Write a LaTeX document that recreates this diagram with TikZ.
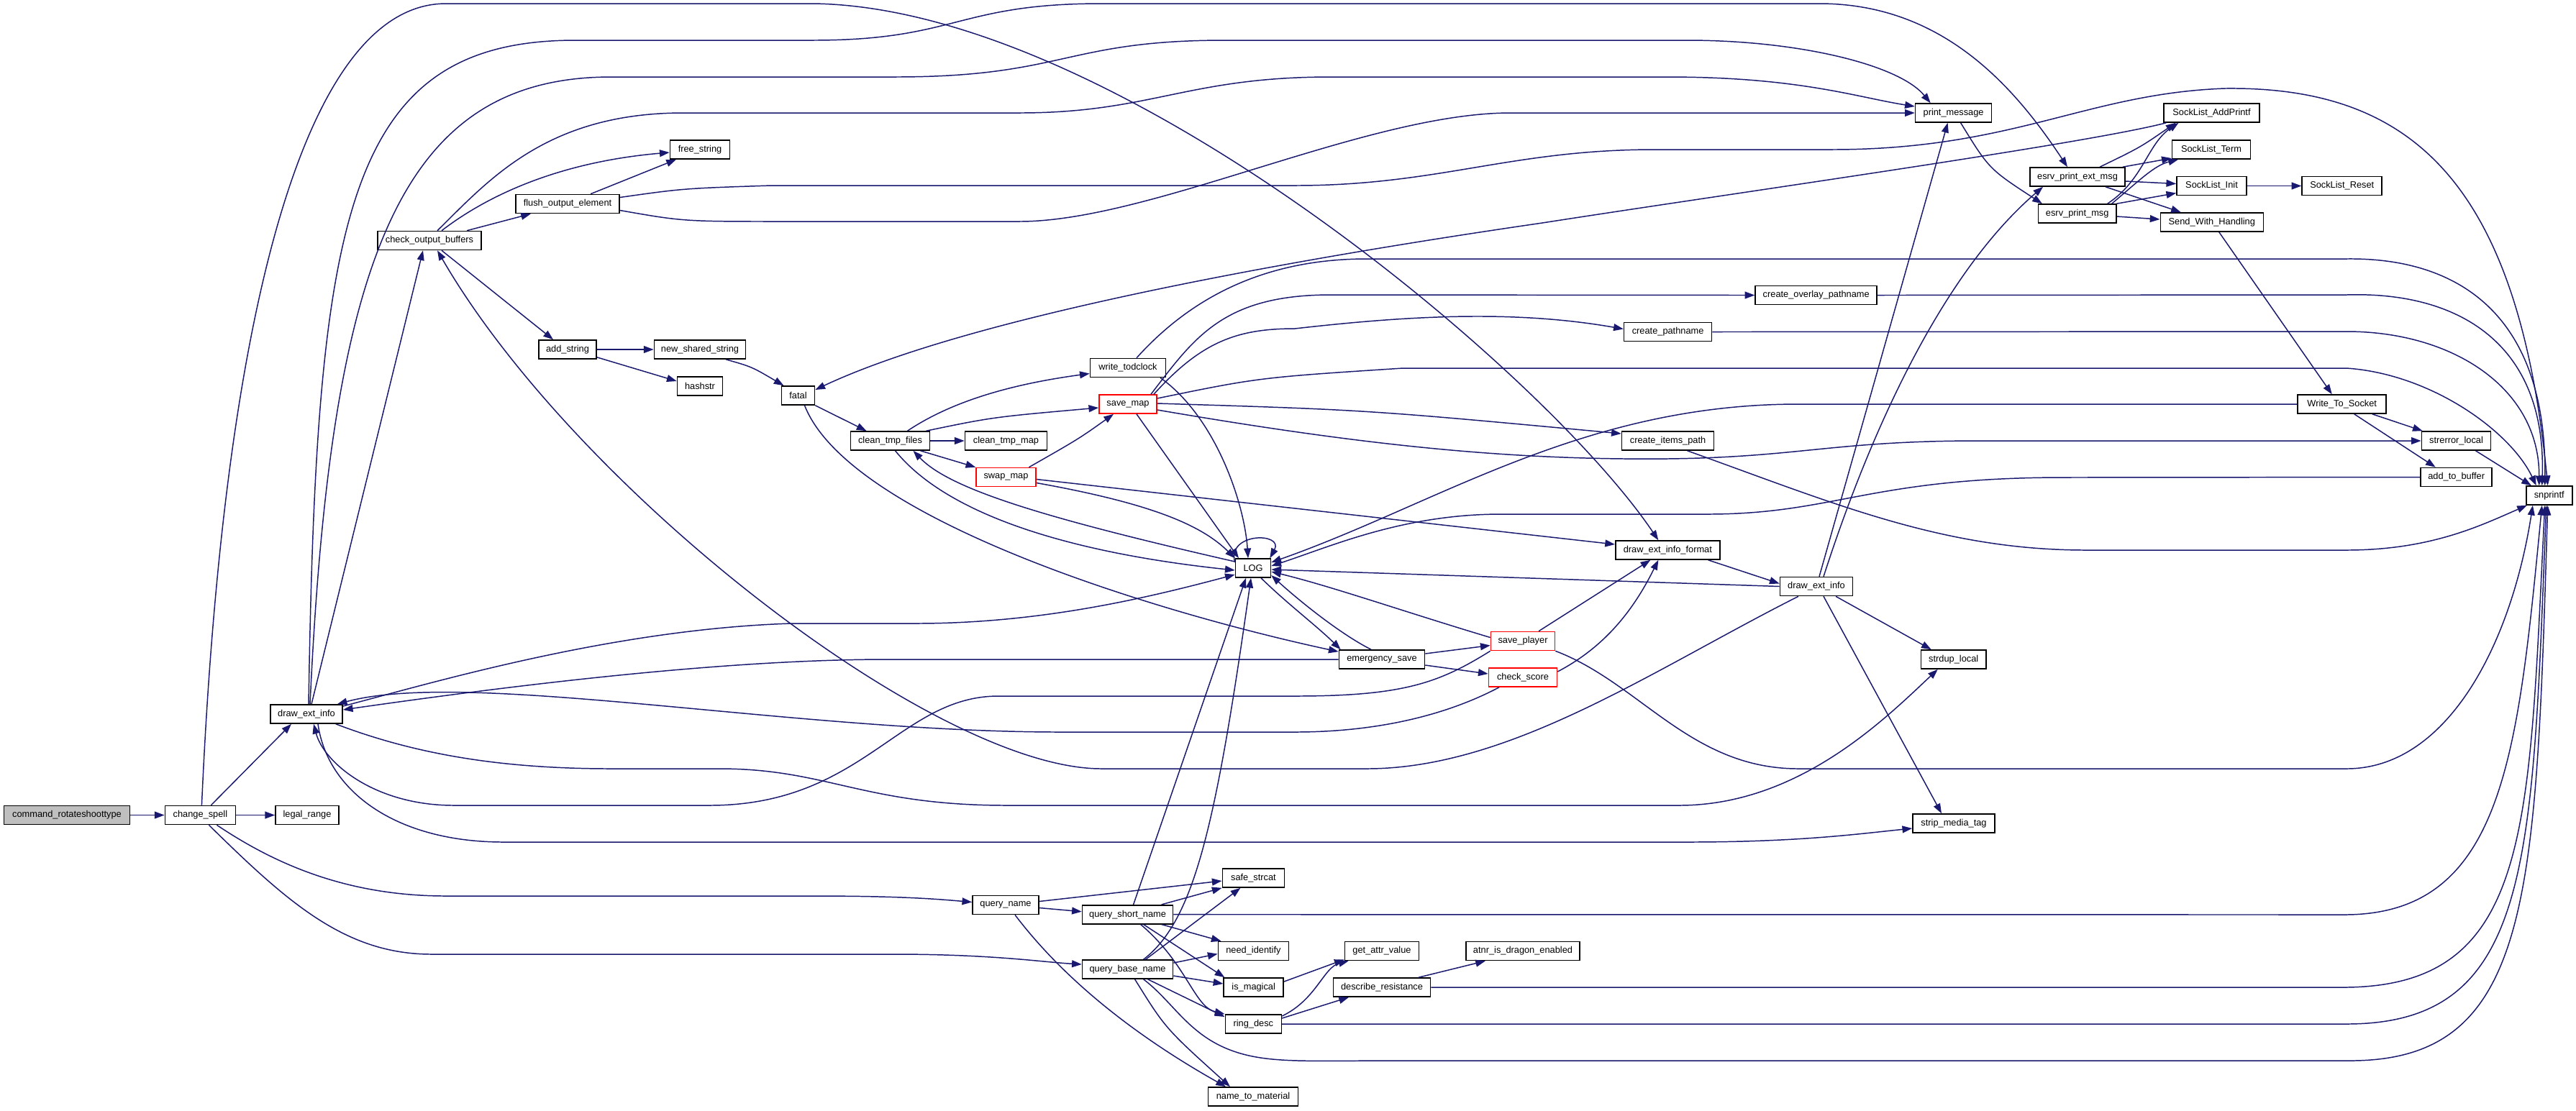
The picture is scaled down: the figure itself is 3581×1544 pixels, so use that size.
\documentclass[tikz,border=0pt]{standalone}
\usepackage{fontspec}
\setmainfont{Liberation Sans}
\usetikzlibrary{arrows.meta,calc}
\definecolor{edgecol}{HTML}{191970}
\definecolor{rootfill}{HTML}{BFBFBF}
\begin{document}
\begin{tikzpicture}[x=0.01cm,y=-0.01cm,
  fn/.style={draw=black,fill=white,line width=0.45pt,minimum height=0.26cm,inner sep=0pt,font=\fontsize{3.64pt}{4.4pt}\selectfont},
  fnr/.style={fn,draw=red},
  ed/.style={color=edgecol,line width=0.42pt,-{Triangle[length=3.9pt,width=2.8pt]}}]
\fill[white] (0,0) rectangle (3581,1544);
\path[use as bounding box] (0,0) rectangle (3581,1544);
% nodes
\node[fn,fill=rootfill,minimum width=1.75cm] (cmd) at (93,1133.5) {command\_rotateshoottype};
\node[fn,minimum width=0.98cm] (cs) at (278.4,1133.5) {change\_spell};
\node[fn,minimum width=0.88cm] (lr) at (427,1133.5) {legal\_range};
\node[fn,minimum width=1.00cm] (dei) at (426,993) {draw\_ext\_info};
\node[fn,minimum width=1.44cm] (cob) at (597,334.5) {check\_output\_buffers};
\node[fn,minimum width=1.44cm] (foe) at (789,283.5) {flush\_output\_element};
\node[fn,minimum width=0.80cm] (as) at (789,486) {add\_string};
\node[fn,minimum width=0.83cm] (fs) at (973,208) {free\_string};
\node[fn,minimum width=1.27cm] (nss) at (973,486) {new\_shared\_string};
\node[fn,minimum width=0.63cm] (hs) at (973,537) {hashstr};
\node[fn,minimum width=0.46cm] (fat) at (1109.5,550) {fatal};
\node[fn,minimum width=1.10cm] (ctf) at (1237.5,613) {clean\_tmp\_files};
\node[fn,minimum width=1.14cm] (ctm) at (1398.5,613) {clean\_tmp\_map};
\node[fnr,minimum width=0.83cm] (swm) at (1398.5,663.5) {swap\_map};
\node[fn,minimum width=0.92cm] (qn) at (1398,1258.5) {query\_name};
\node[fnr,minimum width=0.80cm] (svm) at (1568,562) {save\_map};
\node[fn,minimum width=1.05cm] (wt) at (1568,511.5) {write\_todclock};
\node[fn,minimum width=1.26cm] (qsn) at (1567.6,1271.7) {query\_short\_name};
\node[fn,minimum width=1.26cm] (qbn) at (1567.6,1348) {query\_base\_name};
\node[fn,minimum width=0.49cm] (log) at (1742,790) {LOG};
\node[fn,minimum width=0.86cm] (sst) at (1742.4,1221) {safe\_strcat};
\node[fn,minimum width=0.98cm] (ni) at (1742.4,1322.5) {need\_identify};
\node[fn,minimum width=0.83cm] (im) at (1742.7,1373) {is\_magical};
\node[fn,minimum width=0.78cm] (rd) at (1742.3,1424) {ring\_desc};
\node[fn,minimum width=1.25cm] (ntm) at (1742,1525) {name\_to\_material};
\node[fn,minimum width=1.19cm] (es) at (1921,917) {emergency\_save};
\node[fn,minimum width=1.03cm] (gav) at (1921,1322.5) {get\_attr\_value};
\node[fn,minimum width=1.35cm] (dr) at (1921,1373) {describe\_resistance};
\node[fnr,minimum width=0.89cm] (sp) at (2117,891.5) {save\_player};
\node[fnr,minimum width=0.95cm] (csc) at (2117,942) {check\_score};
\node[fn,minimum width=1.58cm] (atnr) at (2117,1322.5) {atnr\_is\_dragon\_enabled};
\node[fn,minimum width=1.22cm] (cp) at (2318.6,461.5) {create\_pathname};
\node[fn,minimum width=1.28cm] (cip) at (2318.6,613) {create\_items\_path};
\node[fn,minimum width=1.45cm] (deif) at (2318.3,765) {draw\_ext\_info\_format};
\node[fn,minimum width=1.69cm] (cop) at (2524.7,410.5) {create\_overlay\_pathname};
\node[fn,minimum width=1.01cm] (dei2) at (2525,815.5) {draw\_ext\_info};
\node[fn,minimum width=1.06cm] (pm) at (2715.6,157) {print\_message};
\node[fn,minimum width=0.90cm] (sdl) at (2715.7,917) {strdup\_local};
\node[fn,minimum width=1.14cm] (smt) at (2716,1145) {strip\_media\_tag};
\node[fn,minimum width=1.32cm] (epem) at (2888,246) {esrv\_print\_ext\_msg};
\node[fn,minimum width=1.08cm] (epm) at (2887.7,297) {esrv\_print\_msg};
\node[fn,minimum width=1.33cm] (sap) at (3074.5,157) {SockList\_AddPrintf};
\node[fn,minimum width=1.09cm] (st) at (3074,208) {SockList\_Term};
\node[fn,minimum width=0.97cm] (si) at (3074.5,258.5) {SockList\_Init};
\node[fn,minimum width=1.43cm] (swh) at (3074.8,309) {Send\_With\_Handling};
\node[fn,minimum width=1.11cm] (sr) at (3255.7,258.5) {SockList\_Reset};
\node[fn,minimum width=1.23cm] (wts) at (3255.7,562) {Write\_To\_Socket};
\node[fn,minimum width=0.96cm] (sel) at (3414.5,613) {strerror\_local};
\node[fn,minimum width=0.99cm] (atb) at (3414.7,663.5) {add\_to\_buffer};
\node[fn,minimum width=0.64cm] (snp) at (3543.7,689) {snprintf};
% edges: change_spell
\draw[ed] (cmd.east) -- (cs.west);
\draw[ed] (cs.east) -- (lr.west);
\draw[ed] ($(cs.north)+(15,0)$) -- ($(dei.south)+(-21,0)$);
\draw[ed] ($(cs.north)+(2,0)$) .. controls (310,450) and (420,5) .. (620,5) -- (1130,5) .. controls (1550,10) and (2150,520) .. ($(deif.north)+(-13,0)$);
\draw[ed] ($(cs.south)+(23,0)$) .. controls (380,1200) and (480,1246) .. (620,1246) -- (1130,1246) .. controls (1250,1246) and (1300,1250) .. ($(qn.west)+(0,-4)$);
\draw[ed] ($(cs.south)+(12,0)$) .. controls (400,1255) and (480,1327) .. (600,1327) -- (1244,1327) .. controls (1380,1327) and (1450,1338) .. ($(qbn.west)+(0,-7)$);
% draw_ext_info (left)
\draw[ed] ($(dei.north)+(3,0)$) .. controls (440,300) and (480,56) .. (800,56) -- (1130,56) .. controls (1330,56) and (1330,5) .. (1531,5) -- (2529,5) .. controls (2700,5) and (2800,120) .. ($(epem.north)+(-14,0)$);
\draw[ed] ($(dei.north)+(5,0)$) .. controls (460,350) and (560,107) .. (850,107) -- (1244,107) .. controls (1480,107) and (1480,56) .. (1703,56) -- (2345,56) .. controls (2500,56) and (2640,90) .. ($(pm.north)+(-32,0)$);
\draw[ed] ($(dei.north)+(7,0)$) -- ($(cob.south)+(-9,0)$);
\draw[ed] ($(dei.east)+(0,-11)$) .. controls (600,950) and (850,875) .. (1100,867) -- (1273,867) .. controls (1450,867) and (1600,830) .. ($(log.west)+(0,9)$);
\draw[ed] ($(dei.south east)+(-10,0)$) .. controls (580,1050) and (700,1069) .. (850,1069) -- (1000,1069) .. controls (1150,1069) and (1200,1120) .. (1400,1120) -- (2334,1120) .. controls (2500,1120) and (2620,1000) .. ($(sdl.south)+(-22,0)$);
\draw[ed] ($(dei.south)+(16,0)$) .. controls (455,1100) and (550,1171) .. (700,1171) -- (2345,1171) .. controls (2500,1171) and (2580,1160) .. ($(smt.west)+(0,7)$);
% back edges into draw_ext_info (left)
\draw[ed] (sp.south west) .. controls (2000,950) and (1950,968) .. (1800,968) -- (1388,968) .. controls (1250,968) and (1200,1120) .. (986,1120) -- (631,1120) .. controls (520,1120) and (450,1060) .. ($(dei.south)+(10,0)$);
\draw[ed] ($(csc.south)+(-33,0)$) .. controls (2000,1000) and (1900,1018) .. (1800,1018) -- (1474,1018) .. controls (1100,1018) and (650,930) .. ($(dei.north east)+(-8,0)$);
\draw[ed] (es.west) -- (1233,917) .. controls (1000,917) and (700,955) .. ($(dei.east)+(0,-6)$);
\draw[ed] ($(dei2.south)+(-25,0)$) .. controls (2300,930) and (2100,1069) .. (1900,1069) -- (1531,1069) .. controls (1300,1069) and (800,680) .. ($(cob.south)+(11,0)$);
% check_output_buffers
\draw[ed] ($(cob.north)+(52,0)$) -- ($(foe.south)+(-51,0)$);
\draw[ed] ($(cob.south)+(17,0)$) -- ($(as.north)+(-20,0)$);
\draw[ed] ($(cob.north)+(11,0)$) .. controls (680,250) and (760,157) .. (950,157) -- (1417,157) .. controls (1600,157) and (1650,107) .. (1850,107) -- (2317,107) .. controls (2500,107) and (2580,135) .. ($(pm.west)+(0,-9)$);
\draw[ed] ($(cob.north)+(17,0)$) .. controls (680,270) and (780,225) .. ($(fs.west)+(0,4)$);
% flush_output_element
\draw[ed] ($(foe.north)+(32,0)$) -- ($(fs.south)+(-33,0)$);
\draw[ed] ($(foe.east)+(0,9)$) .. controls (950,308) .. (1089,308) -- (1417,308) .. controls (1600,308) and (1900,157) .. (2100,157) -- (pm.west);
\draw[ed] ($(foe.east)+(0,-9)$) .. controls (950,262) .. (1072,258) -- (1800,258) .. controls (2000,258) and (2100,208) .. (2300,208) -- (2546,208) .. controls (2800,208) and (2900,130) .. (3093,123) .. controls (3350,120) and (3500,250) .. ($(snp.north)+(-2,0)$);
% add_string, new_shared_string, fatal
\draw[ed] (as.east) -- (nss.west);
\draw[ed] ($(as.south east)+(0,-3)$) -- ($(hs.west)+(0,-7)$);
\draw[ed] ($(nss.south)+(36,0)$) .. controls (1045,510) .. ($(fat.north)+(-20,0)$);
\draw[ed] (fat.south east) -- ($(ctf.north)+(-33,0)$);
\draw[ed] ($(fat.south)+(9,0)$) .. controls (1180,720) and (1600,850) .. ($(es.north west)+(0,3)$);
% clean_tmp_files
\draw[ed] ($(ctf.north)+(24,0)$) .. controls (1320,560) and (1400,535) .. ($(wt.west)+(0,8)$);
\draw[ed] ($(ctf.north)+(50,0)$) .. controls (1380,580) .. ($(svm.west)+(0,5)$);
\draw[ed] (ctf.east) -- (ctm.west);
\draw[ed] ($(ctf.south)+(42,0)$) -- (swm.north west);
\draw[ed] ($(ctf.south)+(7,0)$) .. controls (1320,720) and (1500,770) .. ($(log.west)+(0,3)$);
\draw[ed] ($(log.west)+(0,-9)$) .. controls (1450,720) and (1320,680) .. ($(ctf.south)+(32,0)$);
% swap_map
\draw[ed] ($(swm.north)+(32,0)$) .. controls (1500,610) .. ($(svm.south)+(-20,0)$);
\draw[ed] ($(swm.east)+(0,3)$) -- ($(deif.west)+(0,-8)$);
\draw[ed] ($(swm.east)+(0,8)$) .. controls (1600,700) and (1670,730) .. (log.north west);
% save_map
\draw[ed] ($(svm.south)+(12,0)$) -- ($(log.north)+(-20,0)$);
\draw[ed] ($(svm.north)+(32,0)$) .. controls (1660,470) and (1700,410) .. (1850,410) -- (cop.west);
\draw[ed] ($(svm.north)+(36,0)$) .. controls (1670,475) and (1720,457) .. (1800,457) .. controls (1950,440) and (2100,430) .. ($(cp.west)+(0,-4)$);
\draw[ed] ($(svm.east)+(0,-8)$) .. controls (1750,525) .. (1950,512) -- (3262,512) .. controls (3380,520) and (3490,600) .. ($(snp.north)+(-18,0)$);
\draw[ed] ($(svm.east)+(0,-1)$) .. controls (1900,570) .. ($(cip.west)+(0,-10)$);
\draw[ed] ($(svm.east)+(0,8)$) .. controls (1900,620) and (2100,640) .. (2317,638) .. controls (2500,636) and (2550,613) .. (2750,613) -- (sel.west);
% write_todclock
\draw[ed] ($(wt.south)+(45,0)$) .. controls (1690,580) and (1730,700) .. ($(log.north)+(-7,0)$);
\draw[ed] ($(wt.north)+(12,0)$) .. controls (1650,420) and (1750,360) .. (1900,360) -- (3262,360) .. controls (3420,358) and (3540,440) .. ($(snp.north)+(-6,0)$);
% LOG
\draw[ed] ($(log.west)+(0,-8)$) .. controls (1705,740) and (1785,740) .. ($(log.north east)+(-2,0)$);
\draw[ed] ($(log.south)+(11,0)$) .. controls (1790,840) and (1830,870) .. ($(es.north west)+(3,0)$);
% query_name
\draw[ed] ($(qn.east)+(0,-5)$) -- ($(sst.west)+(0,4)$);
\draw[ed] ($(qn.east)+(0,4)$) -- ($(qsn.west)+(0,-4)$);
\draw[ed] ($(qn.south)+(13,0)$) .. controls (1470,1350) and (1560,1430) .. ($(ntm.north)+(-38,0)$);
% query_short_name
\draw[ed] ($(qsn.north)+(47,0)$) -- (sst.south west);
\draw[ed] ($(qsn.south)+(47,0)$) -- ($(ni.north west)+(5,0)$);
\draw[ed] ($(qsn.south)+(22,0)$) -- ($(im.north west)+(2,0)$);
\draw[ed] ($(qsn.south)+(18,0)$) .. controls (1650,1340) and (1660,1400) .. (rd.north west);
\draw[ed] (qsn.east) -- (3262,1272) .. controls (3480,1270) and (3500,1050) .. ($(snp.south)+(-10,0)$);
\draw[ed] ($(qsn.north)+(8,0)$) -- ($(log.south)+(-10,0)$);
% query_base_name
\draw[ed] ($(qbn.north)+(22,0)$) .. controls (1660,1280) and (1690,1150) .. ($(log.south)+(-3,0)$);
\draw[ed] ($(qbn.north)+(25,0)$) -- ($(sst.south)+(-18,0)$);
\draw[ed] ($(qbn.east)+(0,-9)$) -- ($(ni.west)+(0,4)$);
\draw[ed] ($(qbn.east)+(0,9)$) -- ($(im.west)+(0,-5)$);
\draw[ed] ($(qbn.south)+(28,0)$) -- ($(rd.west)+(0,-10)$);
\draw[ed] ($(qbn.south)+(10,0)$) .. controls (1620,1430) .. ($(ntm.north)+(-32,0)$);
\draw[ed] ($(qbn.south)+(22,0)$) .. controls (1640,1400) and (1660,1460) .. (1760,1472) .. controls (1800,1477) and (1850,1475) .. (1950,1475) -- (3262,1475) .. controls (3520,1478) and (3525,1250) .. ($(snp.south)+(-2,0)$);
% is_magical, ring_desc, describe_resistance
\draw[ed] ($(im.east)+(0,-8)$) -- ($(gav.south west)+(0,-2)$);
\draw[ed] ($(rd.east)+(0,-11)$) .. controls (1830,1390) and (1840,1345) .. ($(gav.south west)+(6,0)$);
\draw[ed] ($(rd.east)+(0,-8)$) -- ($(dr.south)+(-46,0)$);
\draw[ed] (rd.east) -- (3262,1424) .. controls (3520,1424) and (3520,1200) .. ($(snp.south)+(-4,0)$);
\draw[ed] ($(dr.north)+(51,0)$) -- ($(atnr.south)+(-52,0)$);
\draw[ed] (dr.east) -- (3262,1373) .. controls (3520,1370) and (3515,1150) .. ($(snp.south)+(-6,0)$);
% emergency_save
\draw[ed] ($(es.east)+(0,-8)$) -- ($(sp.west)+(0,6)$);
\draw[ed] ($(es.east)+(0,8)$) -- ($(csc.west)+(0,-5)$);
\draw[ed] ($(es.north)+(-15,0)$) .. controls (1860,880) and (1800,830) .. ($(log.east)+(0,10)$);
% save_player
\draw[ed] ($(sp.north)+(22,0)$) -- ($(deif.south)+(-24,0)$);
\draw[ed] ($(sp.west)+(0,-5)$) .. controls (1950,850) and (1850,815) .. ($(log.east)+(0,5)$);
\draw[ed] (sp.south east) .. controls (2280,950) and (2350,1069) .. (2500,1069) -- (3262,1069) .. controls (3400,1069) and (3490,900) .. ($(snp.south west)+(10,0)$);
% check_score
\draw[ed] ($(csc.east)+(0,-8)$) .. controls (2230,900) and (2270,850) .. ($(deif.south)+(-13,0)$);
% draw_ext_info_format and draw_ext_info (right)
\draw[ed] ($(deif.south east)+(-17,0)$) -- ($(dei2.west)+(0,-4)$);
\draw[ed] (dei2.west) -- ($(log.east)+(0,2)$);
\draw[ed] ($(dei2.north)+(4,0)$) -- ($(pm.south)+(-8,0)$);
\draw[ed] ($(dei2.north)+(10,0)$) .. controls (2600,600) and (2700,380) .. ($(epem.south)+(-48,0)$);
\draw[ed] ($(dei2.south)+(27,0)$) -- ($(sdl.north)+(-31,0)$);
\draw[ed] ($(dei2.south)+(10,0)$) -- ($(smt.north)+(-17,0)$);
% create_* to snprintf
\draw[ed] (cop.east) -- (3262,410) .. controls (3420,405) and (3540,480) .. ($(snp.north)+(-10,0)$);
\draw[ed] (cp.east) -- (3262,461) .. controls (3410,461) and (3530,540) .. ($(snp.north)+(-14,0)$);
\draw[ed] ($(cip.south)+(27,0)$) .. controls (2550,700) and (2700,765) .. (2900,765) -- (3262,765) .. controls (3380,765) and (3450,730) .. ($(snp.south west)+(2,0)$);
% print_message and esrv
\draw[ed] ($(pm.south)+(10,0)$) .. controls (2765,235) .. ($(epm.north west)+(6,0)$);
\draw[ed] ($(epem.north)+(31,0)$) .. controls (2975,205) .. ($(sap.south)+(-50,0)$);
\draw[ed] ($(epem.north east)+(-4,0)$) -- ($(st.west)+(0,12)$);
\draw[ed] ($(epem.east)+(0,6)$) -- ($(si.west)+(0,-3)$);
\draw[ed] ($(epem.south)+(39,0)$) -- ($(swh.north)+(-43,0)$);
\draw[ed] ($(epm.north)+(42,0)$) .. controls (2980,250) and (2985,200) .. ($(sap.south)+(-46,0)$);
\draw[ed] ($(epm.north)+(48,0)$) .. controls (2975,250) and (2995,230) .. ($(st.south)+(-46,0)$);
\draw[ed] (epm.north east) -- ($(si.west)+(0,10)$);
\draw[ed] ($(epm.east)+(0,4)$) -- ($(swh.west)+(0,-4)$);
\draw[ed] (si.east) -- (sr.west);
\draw[ed] ($(swh.south)+(10,0)$) -- ($(wts.north)+(-14,0)$);
\draw[ed] ($(sap.south west)+(4,0)$) .. controls (2900,200) and (2400,270) .. (2144,310) .. controls (1800,360) and (1350,440) .. ($(fat.east)+(0,-8)$);
% Write_To_Socket, add_to_buffer, strerror_local
\draw[ed] ($(wts.south)+(42,0)$) -- ($(sel.north west)+(2,0)$);
\draw[ed] ($(wts.south)+(17,0)$) -- ($(atb.north)+(-29,0)$);
\draw[ed] (wts.west) -- (2500,562) .. controls (2200,562) and (2000,700) .. ($(log.east)+(0,-8)$);
\draw[ed] (atb.west) -- (2869,664) .. controls (2600,664) and (2550,715) .. (2374,715) -- (2087,715) .. controls (1950,715) and (1850,760) .. ($(log.east)+(0,-3)$);
\draw[ed] ($(sel.south)+(27,0)$) -- ($(snp.north west)+(8,0)$);
\end{tikzpicture}
\end{document}
